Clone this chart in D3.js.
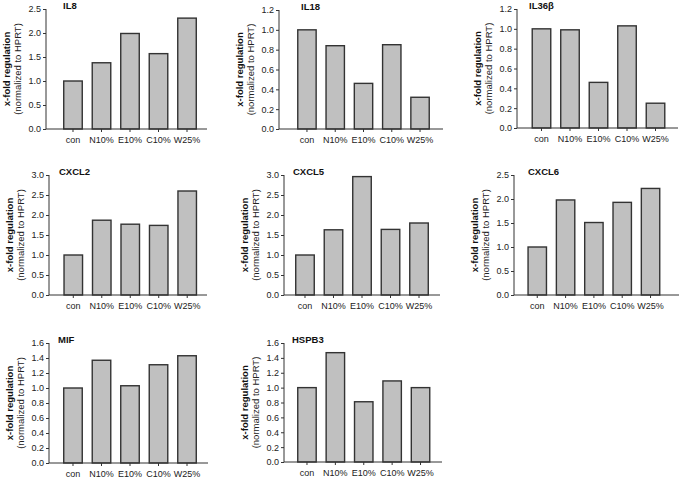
<!DOCTYPE html>
<html><head><meta charset="utf-8">
<script src="https://cdn.jsdelivr.net/npm/d3@7"></script>
<style>body{margin:0;background:#fff}svg{display:block}</style>
</head><body>
<svg id="c" width="685" height="478"></svg>
<script>
const categories = ["con","N10%","E10%","C10%","W25%"];
const genes = ["IL8","IL18","IL36β","CXCL2","CXCL5","CXCL6","MIF","HSPB3"];
const IL8   = [1.0, 1.38, 1.99, 1.57, 2.31];
const IL18  = [1.0, 0.84, 0.46, 0.85, 0.32];
const IL36b = [1.0, 0.99, 0.46, 1.03, 0.25];
const CXCL2 = [1.0, 1.87, 1.77, 1.74, 2.60];
const CXCL5 = [1.0, 1.63, 2.96, 1.64, 1.80];
const CXCL6 = [1.0, 1.98, 1.51, 1.93, 2.22];
const MIF   = [1.0, 1.37, 1.03, 1.31, 1.43];
const HSPB3 = [1.0, 1.47, 0.81, 1.09, 1.0];
const seriesValues = [IL8, IL18, IL36b, CXCL2, CXCL5, CXCL6, MIF, HSPB3];
const yMax  = [2.5, 1.2, 1.2, 3.0, 3.0, 2.5, 1.6, 1.6];
const yStep = [0.5, 0.2, 0.2, 0.5, 0.5, 0.5, 0.2, 0.2];

// layout (positions only)
const layout = [
  {ax:46,  top:9,   bot:129, c0:69,  c4:191,   end:207, tx:63},
  {ax:279, top:10,  bot:129, c0:303, c4:424,   end:443, tx:301},
  {ax:517, top:9,   bot:128, c0:537.5,c4:659.5,end:678, tx:529},
  {ax:49,  top:175, bot:295, c0:69.3,c4:191.2, end:207, tx:59},
  {ax:284, top:175, bot:295, c0:301, c4:423,   end:440, tx:293},
  {ax:514, top:175, bot:295, c0:533.3,c4:654.5,end:679, tx:528},
  {ax:49,  top:343, bot:463, c0:69,  c4:191,   end:208, tx:58},
  {ax:284, top:343, bot:462, c0:303, c4:424.5, end:442, tx:292}
];

const svg = d3.select("#c");
const font = "Liberation Sans, Arial, sans-serif";
const ink = "#333";

genes.forEach((g, i) => {
  const L = layout[i];
  const vals = seriesValues[i];
  const step = (L.c4 - L.c0) / 4;
  const x = d3.scaleBand().domain(categories)
    .range([L.c0 - step/2, L.c4 + step/2]).padding(0.35);
  const y = d3.scaleLinear().domain([0, yMax[i]]).range([L.bot, L.top]);
  const gp = svg.append("g");

  // bars
  gp.selectAll("rect").data(categories).join("rect")
    .attr("x", d => x(d)).attr("width", x.bandwidth())
    .attr("y", (d, j) => y(vals[j])).attr("height", (d, j) => y(0) - y(vals[j]))
    .attr("fill", "#c0c0c0").attr("stroke", ink).attr("stroke-width", 1.4);

  // y axis
  const ticks = d3.range(0, yMax[i] + yStep[i]/2, yStep[i]);
  const ya = gp.append("g").attr("transform", `translate(${L.ax},0)`)
    .call(d3.axisLeft(y).tickValues(ticks).tickFormat(d3.format(".1f")).tickSize(3).tickPadding(2));
  ya.select(".domain").attr("stroke", ink).attr("d", `M-0,${L.top}V${L.bot}`);
  ya.selectAll(".tick line").attr("stroke", ink);
  ya.selectAll("text").attr("font-family", font).attr("font-size", 9).attr("fill", "#222");

  // x axis
  const xa = gp.append("g").attr("transform", `translate(0,${L.bot})`)
    .call(d3.axisBottom(x).tickSize(3).tickPadding(5));
  xa.select(".domain").attr("stroke", ink).attr("d", `M${L.ax},0H${L.end}`);
  xa.selectAll(".tick line").attr("stroke", ink);
  xa.selectAll("text").attr("font-family", font).attr("font-size", 9).attr("fill", "#222");

  // title
  gp.append("text").attr("x", L.tx).attr("y", L.top - 0.5)
    .attr("font-family", font).attr("font-size", 9.5).attr("font-weight", "bold")
    .attr("fill", "#111").text(g);

  // y label
  const cy = (L.top + L.bot) / 2;
  gp.append("text").attr("transform", `translate(${L.ax - 36},${cy}) rotate(-90)`)
    .attr("text-anchor", "middle").attr("font-family", font).attr("font-size", 9.5)
    .attr("font-weight", "bold").attr("fill", "#111").text("x-fold regulation");
  gp.append("text").attr("transform", `translate(${L.ax - 25},${cy}) rotate(-90)`)
    .attr("text-anchor", "middle").attr("font-family", font).attr("font-size", 9.5)
    .attr("fill", "#222").text("(normalized to HPRT)");
});
</script>
</body></html>
